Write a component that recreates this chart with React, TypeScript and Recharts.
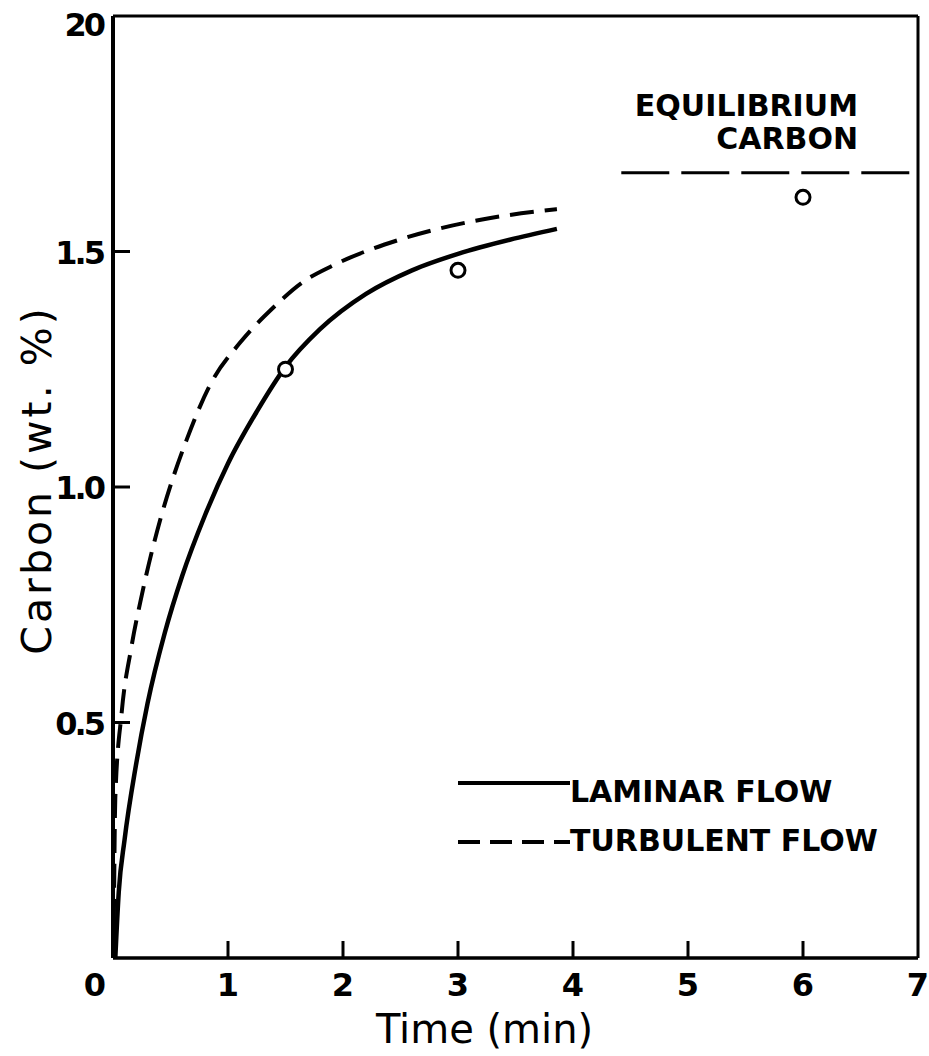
import React from 'react';
import {
  ComposedChart,
  Line,
  Scatter,
  XAxis,
  YAxis,
  ReferenceLine,
  Legend,
} from 'recharts';

// ---- data ----
const laminarTime = [0.02, 0.05, 0.1, 0.2, 0.3, 0.45, 0.6, 0.8, 1.0, 1.25, 1.5, 1.8, 2.2, 2.6, 3.0, 3.45, 3.86];
const laminarCarbon = [0.0, 0.14, 0.25, 0.41, 0.54, 0.69, 0.81, 0.94, 1.05, 1.16, 1.255, 1.335, 1.41, 1.46, 1.495, 1.525, 1.548];

const turbulentTime = [0.005, 0.02, 0.075, 0.16, 0.25, 0.41, 0.52, 0.64, 0.84, 1.1, 1.39, 1.65, 1.91, 2.49, 3.21, 3.86];
const turbulentCarbon = [0.0, 0.34, 0.52, 0.66, 0.77, 0.93, 1.018, 1.1, 1.215, 1.305, 1.38, 1.435, 1.47, 1.525, 1.568, 1.59];

const measuredTime = [1.5, 3, 6];
const measuredCarbon = [1.25, 1.46, 1.615];

const equilibriumCarbon = 1.667;
const equilibriumFrom = 4.42;

const xTicks = [0, 1, 2, 3, 4, 5, 6, 7];
const xTickLabels = ['0', '1', '2', '3', '4', '5', '6', '7'];
const yTicks = [0.5, 1.0, 1.5, 2.0];
const yTickLabels = ['0.5', '1.0', '1.5', '20'];

const xDomain: [number, number] = [0, 7];
const yDomain: [number, number] = [0, 2];

const laminarData = laminarTime.map((x, i) => ({ x, y: laminarCarbon[i] }));
const turbulentData = turbulentTime.map((x, i) => ({ x, y: turbulentCarbon[i] }));
const measuredData = measuredTime.map((x, i) => ({ x, y: measuredCarbon[i] }));

const FONT = '"DejaVu Sans", sans-serif';
const INK = '#000';

// inward tick lengths (in data units of the crossing axis)
const X_TICK_LEN = 17 / 471;
const Y_TICK_LEN = 17 / 115;

const XTick = (props: any) => {
  const { x, y, payload } = props;
  const idx = xTicks.indexOf(payload.value);
  const shift = payload.value === 0 ? -18 : 0;
  return (
    <text x={x + shift} y={y + 38} textAnchor="middle" fontFamily={FONT} fontWeight="bold" fontSize={32} fill={INK}>
      {xTickLabels[idx]}
    </text>
  );
};

const YTick = (props: any) => {
  const { x, y, payload } = props;
  const idx = yTicks.indexOf(payload.value);
  const extra = payload.value === 2 ? 8 : 0;
  return (
    <text x={x - 10} y={y + 12 + extra} textAnchor="end" fontFamily={FONT} fontWeight="bold" fontSize={32} letterSpacing={-3} fill={INK}>
      {yTickLabels[idx]}
    </text>
  );
};

const XTitle = (props: any) => {
  const vb = props.viewBox || {};
  const cx = vb.x + vb.width / 2 - 31;
  return (
    <text x={cx} y={vb.y + 85} textAnchor="middle" fontFamily={FONT} fontSize={40} fill={INK}>
      Time (min)
    </text>
  );
};

const YTitle = (props: any) => {
  const vb = props.viewBox || {};
  const cx = vb.x - 16;
  const cy = vb.y + vb.height / 2 - 7;
  return (
    <text
      x={cx}
      y={cy}
      transform={`rotate(-90, ${cx}, ${cy})`}
      textAnchor="middle"
      dominantBaseline="central"
      fontFamily={FONT}
      fontSize={41}
      letterSpacing={3}
      fill={INK}
    >
      Carbon (wt. %)
    </text>
  );
};

const EquilibriumLabel = (props: any) => {
  const vb = props.viewBox || {};
  const right = vb.x + (vb.width || 0) - 60;
  const y = vb.y;
  return (
    <g>
      <text x={right} y={y - 57} textAnchor="end" fontFamily={FONT} fontWeight="bold" fontSize={30} fill={INK}>
        EQUILIBRIUM
      </text>
      <text x={right} y={y - 24} textAnchor="end" fontFamily={FONT} fontWeight="bold" fontSize={30} fill={INK}>
        CARBON
      </text>
    </g>
  );
};

const LegendContent = () => (
  <svg width={460} height={100} style={{ display: 'block', overflow: 'visible' }}>
    <line x1={3} x2={115} y1={21} y2={21} stroke={INK} strokeWidth={4} />
    <text x={115} y={40} fontFamily={FONT} fontWeight="bold" fontSize={30} fill={INK}>
      LAMINAR FLOW
    </text>
    <line x1={3} x2={115} y1={80} y2={80} stroke={INK} strokeWidth={4} strokeDasharray="22 10" />
    <text x={115} y={89} fontFamily={FONT} fontWeight="bold" fontSize={30} fill={INK}>
      TURBULENT FLOW
    </text>
  </svg>
);

const Circle = (props: any) => {
  const { cx, cy } = props;
  return <circle cx={cx} cy={cy} r={7} fill="#fff" stroke={INK} strokeWidth={3} />;
};

export default function App() {
  return (
    <div style={{ position: 'absolute', left: 0, top: 0, width: 929, height: 1056, background: '#fff' }}>
      <ComposedChart
        width={929}
        height={1056}
        margin={{ top: 16, right: 11, bottom: 18, left: 53 }}
      >
        <XAxis
          dataKey="x"
          type="number"
          domain={xDomain}
          ticks={xTicks}
          allowDataOverflow
          height={80}
          tickSize={0}
          tickMargin={0}
          tickLine={false}
          axisLine={{ stroke: INK, strokeWidth: 3.5 }}
          tick={<XTick />}
          label={XTitle}
          interval={0}
        />
        <YAxis
          type="number"
          domain={yDomain}
          ticks={yTicks}
          allowDataOverflow
          width={60}
          tickSize={0}
          tickMargin={0}
          tickLine={false}
          axisLine={{ stroke: INK, strokeWidth: 4 }}
          tick={<YTick />}
          label={YTitle}
          interval={0}
        />

        {/* frame: top and right edges */}
        <ReferenceLine y={yDomain[1]} stroke={INK} strokeWidth={3} ifOverflow="visible" />
        <ReferenceLine x={xDomain[1]} stroke={INK} strokeWidth={3} ifOverflow="visible" />

        {/* inward tick marks */}
        {xTicks.slice(1, -1).map((t) => (
          <ReferenceLine
            key={`xt${t}`}
            segment={[{ x: t, y: 0 }, { x: t, y: X_TICK_LEN }]}
            stroke={INK}
            strokeWidth={3}
            ifOverflow="visible"
          />
        ))}
        {yTicks.slice(0, -1).map((t) => (
          <ReferenceLine
            key={`yt${t}`}
            segment={[{ x: 0, y: t }, { x: Y_TICK_LEN, y: t }]}
            stroke={INK}
            strokeWidth={3}
            ifOverflow="visible"
          />
        ))}

        {/* equilibrium carbon */}
        <ReferenceLine
          segment={[{ x: equilibriumFrom, y: equilibriumCarbon }, { x: xDomain[1], y: equilibriumCarbon }]}
          stroke={INK}
          strokeWidth={3}
          strokeDasharray="48 12"
          ifOverflow="visible"
          label={EquilibriumLabel}
        />

        <Line
          data={laminarData}
          dataKey="y"
          type="monotone"
          stroke={INK}
          strokeWidth={4.5}
          dot={false}
          isAnimationActive={false}
          name="LAMINAR FLOW"
        />
        <Line
          data={turbulentData}
          dataKey="y"
          type="monotone"
          stroke={INK}
          strokeWidth={4}
          strokeDasharray="24 11"
          dot={false}
          isAnimationActive={false}
          name="TURBULENT FLOW"
        />
        <Scatter data={measuredData} dataKey="y" shape={<Circle />} isAnimationActive={false} legendType="none" />

        <Legend
          layout="vertical"
          align="center"
          verticalAlign="middle"
          content={<LegendContent />}
          wrapperStyle={{ left: 455, top: 762, width: 460, height: 100 }}
        />
      </ComposedChart>
    </div>
  );
}
